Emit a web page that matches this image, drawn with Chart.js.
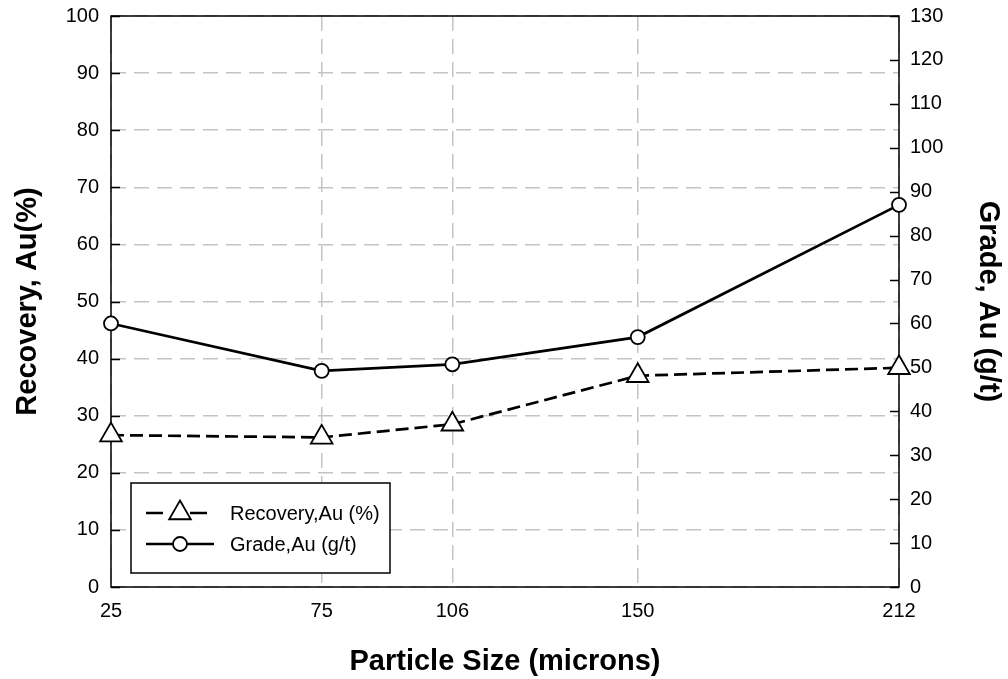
<!DOCTYPE html>
<html>
<head>
<meta charset="utf-8">
<script src="https://cdn.jsdelivr.net/npm/chart.js@4.4.1/dist/chart.umd.min.js"></script>
<style>
  html, body { margin: 0; padding: 0; background: #fff; }
</style>
</head>
<body>
<canvas id="chart" width="1008" height="679"></canvas>
<script>
// particle size (microns) and measured values
const sizes = [25, 75, 106, 150, 212];
const recovery = [26.6, 26.2, 28.5, 37.0, 38.4];   // %
const grade = [60.0, 49.2, 50.7, 56.9, 87.0];       // g/t
const xTicks = [25, 75, 106, 150, 212];

const FONT = "'Liberation Sans', Arial, Helvetica, sans-serif";
const GRID = "#c4c4c4";

Chart.defaults.color = "#000";
Chart.defaults.font.family = FONT;

// frame, inward tick marks, and the boxed legend
const frameAndLegend = {
  id: "frameAndLegend",
  beforeDatasetsDraw(chart) {
    const ctx = chart.ctx;
    const a = chart.chartArea;
    const yL = chart.scales.y, yR = chart.scales.y1;
    ctx.save();
    ctx.strokeStyle = "#000";
    ctx.lineWidth = 1.5;
    ctx.setLineDash([]);
    ctx.beginPath();
    yL.ticks.forEach(t => {
      const p = Math.round(yL.getPixelForValue(t.value)) + 0.5;
      ctx.moveTo(a.left, p); ctx.lineTo(a.left + 9, p);
    });
    yR.ticks.forEach(t => {
      const p = Math.round(yR.getPixelForValue(t.value)) + 0.5;
      ctx.moveTo(a.right, p); ctx.lineTo(a.right - 9, p);
    });
    ctx.stroke();
    ctx.strokeRect(a.left, a.top, a.right - a.left, a.bottom - a.top);
    ctx.restore();
  },
  afterDraw(chart) {
    const ctx = chart.ctx;
    const a = chart.chartArea;
    ctx.save();
    ctx.strokeStyle = "#000";
    ctx.lineWidth = 1.5;
    const lx = a.left + 20, ly = a.bottom - 104, lw = 259, lh = 90;
    ctx.fillStyle = "#fff";
    ctx.fillRect(lx, ly, lw, lh);
    ctx.strokeRect(lx, ly, lw, lh);
    chart.data.datasets.forEach((ds, i) => {
      const cy = ly + 30 + i * 31;
      ctx.lineWidth = ds.borderWidth;
      ctx.strokeStyle = ds.borderColor;
      ctx.beginPath();
      if (ds.borderDash && ds.borderDash.length) {
        ctx.setLineDash([17, 27]);
        ctx.moveTo(lx + 15, cy); ctx.lineTo(lx + 76, cy);
      } else {
        ctx.setLineDash([]);
        ctx.moveTo(lx + 15, cy); ctx.lineTo(lx + 83, cy);
      }
      ctx.stroke();
      ctx.setLineDash([]);
      ctx.fillStyle = ds.pointBackgroundColor;
      ctx.strokeStyle = ds.pointBorderColor;
      ctx.lineWidth = ds.pointBorderWidth;
      Chart.helpers.drawPoint(ctx, {
        pointStyle: ds.pointStyle, rotation: 0,
        radius: ds.pointRadius,
        borderWidth: ds.pointBorderWidth
      }, lx + 49, cy);
      ctx.fillStyle = "#000";
      ctx.font = "20px " + FONT;
      ctx.textBaseline = "middle";
      ctx.textAlign = "left";
      ctx.fillText(ds.label, lx + 99, cy + 1);
    });
    ctx.restore();
  }
};

const fitY = w => s => { s.width = w; s.paddingTop = 0; s.paddingBottom = 0; };

new Chart(document.getElementById("chart"), {
  type: "line",
  data: {
    datasets: [
      {
        label: "Recovery,Au (%)",
        data: sizes.map((s, i) => ({ x: s, y: recovery[i] })),
        yAxisID: "y",
        borderColor: "#000",
        borderWidth: 2.7,
        borderDash: [13, 6],
        pointStyle: "triangle",
        pointRadius: 12.5,
        pointBackgroundColor: "#fff",
        pointBorderColor: "#000",
        pointBorderWidth: 1.8,
        clip: false,
        tension: 0
      },
      {
        label: "Grade,Au (g/t)",
        data: sizes.map((s, i) => ({ x: s, y: grade[i] })),
        yAxisID: "y1",
        borderColor: "#000",
        borderWidth: 2.7,
        pointStyle: "circle",
        pointRadius: 7,
        pointBackgroundColor: "#fff",
        pointBorderColor: "#000",
        pointBorderWidth: 1.8,
        clip: false,
        tension: 0
      }
    ]
  },
  options: {
    responsive: false,
    animation: false,
    layout: { padding: { top: 16, left: 0, right: 0, bottom: 0 } },
    plugins: { legend: { display: false }, tooltip: { enabled: false } },
    scales: {
      x: {
        type: "linear",
        min: 25,
        max: 212,
        afterBuildTicks: s => { s.ticks = xTicks.map(v => ({ value: v })); },
        afterFit: s => { s.height = 92; },
        grid: { color: GRID, lineWidth: 1.5, drawTicks: false },
        border: { display: false, dash: [15, 8] },
        ticks: { font: { size: 20 }, padding: 12, maxRotation: 0, autoSkip: false, callback: v => v },
        title: {
          display: true, text: "Particle Size (microns)",
          font: { size: 29, weight: "bold" }, padding: { top: 0, bottom: 0 }
        }
      },
      y: {
        position: "left",
        min: 0,
        max: 100,
        afterFit: fitY(111),
        grid: { color: GRID, lineWidth: 1.5, drawTicks: false },
        border: { display: false, dash: [15, 8] },
        ticks: { stepSize: 10, font: { size: 20 }, padding: 12 },
        title: {
          display: true, text: "Recovery, Au(%)",
          font: { size: 29, weight: "bold" }, padding: { top: 11, bottom: 0 }
        }
      },
      y1: {
        position: "right",
        min: 0,
        max: 130,
        afterFit: fitY(109),
        grid: { drawOnChartArea: false, drawTicks: false },
        border: { display: false },
        ticks: { stepSize: 10, font: { size: 20 }, padding: 11 },
        title: {
          display: true, text: "Grade, Au (g/t)",
          font: { size: 29, weight: "bold" }, padding: { top: 3, bottom: 0 }
        }
      }
    }
  },
  plugins: [frameAndLegend]
});
</script>
</body>
</html>
